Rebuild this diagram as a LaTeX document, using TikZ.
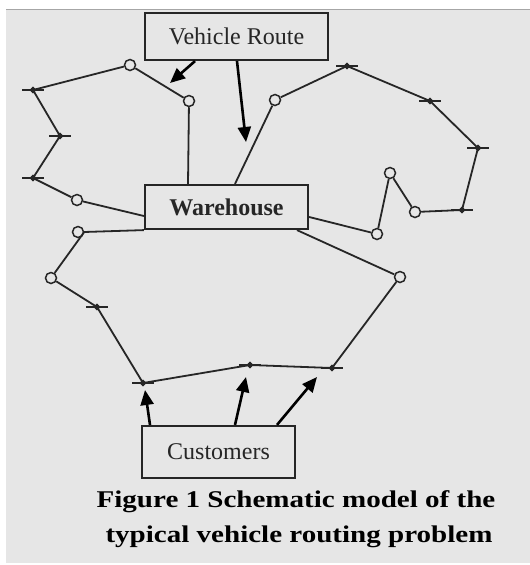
\documentclass[tikz,border=0pt]{standalone}
\usepackage{fontspec}
\setmainfont{Liberation Serif}
\usetikzlibrary{arrows.meta,shapes.geometric}
\definecolor{bg}{HTML}{E6E6E6}
\definecolor{ink}{HTML}{262626}
\tikzset{
  box/.style={draw=ink, line width=2.2pt, fill=bg, inner sep=0pt, text=ink, font=\fontsize{24}{28}\selectfont},
  route/.style={draw=ink, line width=1.8pt},
  stop/.style={circle, draw=ink, line width=1.5pt, fill=bg, minimum size=11pt, inner sep=0pt},
  cust/.style={diamond, fill=ink, minimum size=7pt, inner sep=0pt},
  bar/.style={draw=ink, line width=1.9pt},
  arr/.style={draw=black, line width=2.6pt, -{Triangle[length=15pt,width=13pt]}},
  captext/.style={font=\fontsize{24}{35}\selectfont\bfseries, text=black, anchor=base, inner sep=0pt}
}
\begin{document}
\begin{tikzpicture}[x=1pt,y=-1pt]
\useasboundingbox (0,0) rectangle (530,565);
\fill[white] (0,0) rectangle (530,565);
\fill[bg] (6,9) rectangle (530,563);
\draw[gray!70, line width=0.8pt] (6,9) -- (530,9);

% boxes (positions)
\coordinate (vrc) at (236.5,36.5);
\coordinate (whc) at (226.5,207);
\coordinate (cuc) at (218.5,452);

% route A
\node[stop] (a1) at (77,200) {};
\node[cust] (a2) at (33,178) {};
\node[cust] (a3) at (60,136) {};
\node[cust] (a4) at (33,90) {};
\node[stop] (a5) at (130,65) {};
\node[stop] (a6) at (189,101) {};
% route B
\node[stop] (b1) at (275,100) {};
\node[cust] (b2) at (347,66) {};
\node[cust] (b3) at (430,101) {};
\node[cust] (b4) at (478,148) {};
\node[cust] (b5) at (462,210) {};
\node[stop] (b6) at (415,212) {};
\node[stop] (b7) at (390,173) {};
\node[stop] (b8) at (377,234) {};
% route C
\node[stop] (c1) at (400,277) {};
\node[cust] (c2) at (332,368) {};
\node[cust] (c3) at (250,365) {};
\node[cust] (c4) at (143,383) {};
\node[cust] (c5) at (97,307) {};
\node[stop] (c6) at (51,278) {};
\node[stop] (c7) at (78,232) {};

% boxes
\node[box, minimum width=183pt, minimum height=47pt] (vr) at (vrc) {Vehicle Route};
\node[box, minimum width=163pt, minimum height=44pt, font=\fontsize{24}{28}\selectfont\bfseries] (wh) at (whc) {Warehouse};
\node[box, minimum width=153pt, minimum height=52pt] (cu) at (cuc) {Customers};

% routes
\draw[route] ([yshift=-9pt]wh.west) -- (a1) -- (a2.center) -- (a3.center) -- (a4.center) -- (a5) -- (a6) -- ([xshift=-38.5pt]wh.north);
\draw[route] ([xshift=8.5pt]wh.north) -- (b1) -- (b2.center) -- (b3.center) -- (b4.center) -- (b5.center) -- (b6) -- (b7) -- (b8) -- ([yshift=-10pt]wh.east);
\draw[route] ([xshift=70.5pt]wh.south) -- (c1) -- (c2.center) -- (c3.center) -- (c4.center) -- (c5.center) -- (c6) -- (c7.east) -- (wh.south west);

% customer markers
\foreach \n in {a2,a3,a4,b2,b3,b4,b5,c2,c3,c4,c5}{
  \draw[bar] ([xshift=-11pt]\n.center) -- ([xshift=11pt]\n.center);
  \node[cust] at (\n.center) {};
}

% arrows
\coordinate (t1) at (170,83);
\coordinate (t2) at (246,142);
\coordinate (t3) at (145,390);
\coordinate (t4) at (246,377);
\coordinate (t5) at (317,377);
\draw[arr] ([xshift=-41.5pt]vr.south) -- (t1);
\draw[arr] ([xshift=0.5pt]vr.south) -- (t2);
\draw[arr] ([xshift=-68.5pt]cu.north) -- (t3);
\draw[arr] ([xshift=16.5pt]cu.north) -- (t4);
\draw[arr] ([xshift=58.5pt]cu.north) -- (t5);

% caption
\node[captext] (cap1) at (296,507) {\scalebox{1.21}[1]{Figure 1 Schematic model of the}};
\node[captext] (cap2) at (299,542) {\scalebox{1.21}[1]{typical vehicle routing problem}};
\end{tikzpicture}
\end{document}
